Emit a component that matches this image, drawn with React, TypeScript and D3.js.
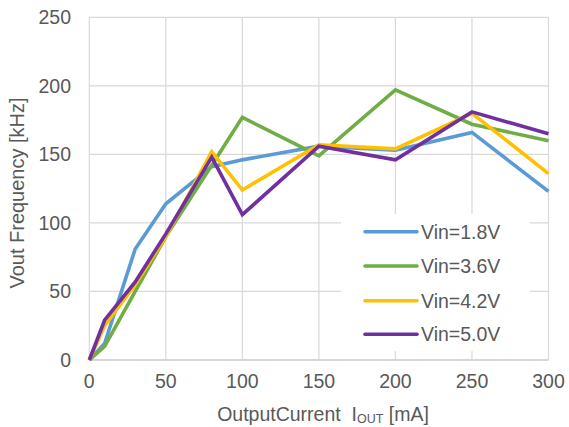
import React from "react";
import * as d3 from "d3";

const xValues = [0, 10, 30, 50, 80, 100, 150, 200, 250, 300];
const vin18 = [0, 12, 81, 114, 141, 146, 156, 153, 166, 123];
const vin36 = [0, 10, 50, 90, 142, 177, 149, 197, 172, 160];
const vin42 = [0, 25, 55, 90, 152, 124, 157, 154, 180, 136];
const vin50 = [0, 29, 57, 92, 148, 106, 156, 146, 181, 165];
const seriesNames = ["Vin=1.8V", "Vin=3.6V", "Vin=4.2V", "Vin=5.0V"];
const seriesColors = ["#5B9BD5", "#70AD47", "#FFC000", "#7030A0"];
const xTicks = [0, 50, 100, 150, 200, 250, 300];
const yTicks = [0, 50, 100, 150, 200, 250];

const W = 569, H = 427;
const left = 89.3, right = 548.5, top = 17.3, bottom = 360;
const FONT = "'Liberation Sans', Arial, sans-serif";
const TXT = "#595959";

export default function App() {
  const x = d3.scaleLinear().domain([0, 300]).range([left, right]);
  const y = d3.scaleLinear().domain([0, 250]).range([bottom, top]);
  const line = d3.line<[number, number]>().x(d => x(d[0])).y(d => y(d[1]));
  const all = [vin18, vin36, vin42, vin50];

  const legX = 341, legY = 214, legW = 189, legH = 137;
  const rowY = [231.7, 266, 300.7, 334.3];

  return (
    <svg width={W} height={H} style={{ position: "absolute", left: 0, top: 0 }} fontFamily={FONT}>
      <rect width={W} height={H} fill="#fff" />
      {yTicks.map(t => (
        <line key={"gy" + t} x1={left} x2={right} y1={y(t)} y2={y(t)} stroke="#d9d9d9" strokeWidth={1.2} />
      ))}
      {xTicks.map(t => (
        <line key={"gx" + t} x1={x(t)} x2={x(t)} y1={top} y2={bottom} stroke="#d9d9d9" strokeWidth={1.2} />
      ))}
      <line x1={left} x2={right} y1={bottom} y2={bottom} stroke="#d0d0d0" strokeWidth={1.3} />
      {yTicks.map(t => (
        <text key={"ty" + t} x={71} y={y(t)} dy="0.36em" textAnchor="end" fontSize={19.5} fill={TXT}>{t}</text>
      ))}
      {xTicks.map(t => (
        <text key={"tx" + t} x={x(t)} y={388} textAnchor="middle" fontSize={19.5} fill={TXT}>{t}</text>
      ))}
      {all.map((s, i) => (
        <path key={"s" + i} d={line(xValues.map((v, j) => [v, s[j]] as [number, number])) || ""} fill="none"
          stroke={seriesColors[i]} strokeWidth={3.6} strokeLinejoin="miter" />
      ))}
      <rect x={legX} y={legY} width={legW} height={legH} fill="#fff" />
      {seriesNames.map((n, i) => (
        <g key={"l" + i}>
          <line x1={365} x2={417} y1={rowY[i]} y2={rowY[i]} stroke={seriesColors[i]} strokeWidth={3.6} strokeLinecap="round" />
          <text x={421} y={rowY[i]} dy="0.36em" fontSize={19.5} fill={TXT}>{n}</text>
        </g>
      ))}
      <text transform={`translate(24,${193}) rotate(-90)`} textAnchor="middle" fontSize={20} fill={TXT}>Vout Frequency [kHz]</text>
      <text x={323} y={421} textAnchor="middle" fontSize={19.5} fill={TXT}>
        OutputCurrent{"\u00a0\u00a0"}I<tspan fontSize={12.5} dy={2}>OUT</tspan><tspan dy={-2}>{"\u00a0"}[mA]</tspan>
      </text>
    </svg>
  );
}
